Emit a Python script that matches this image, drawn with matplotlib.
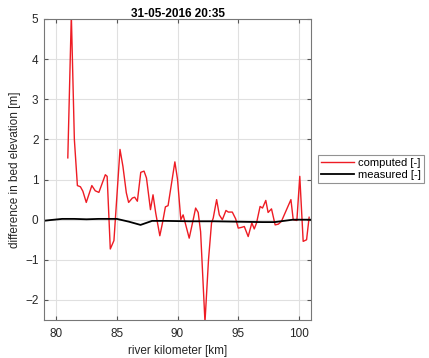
import matplotlib
matplotlib.use('Agg')
import matplotlib.pyplot as plt

plt.rcParams['font.family'] = ['Liberation Sans', 'DejaVu Sans']

# computed bed level difference (red)
km_computed = [80.96, 81.25, 81.5, 81.75, 82.0, 82.2, 82.48, 82.94, 83.22, 83.52,
               84.05, 84.2, 84.46, 84.76, 85.26, 85.5, 85.78, 85.97, 86.28, 86.47,
               86.69, 86.97, 87.24, 87.44, 87.77, 87.98, 88.2, 88.54, 88.76, 89.0,
               89.22, 89.78, 90.0, 90.27, 90.46, 90.96, 91.29, 91.49, 91.7, 91.9,
               92.26, 92.55, 92.8, 92.94, 93.22, 93.44, 93.69, 93.99, 94.18, 94.51,
               94.79, 95.0, 95.29, 95.5, 95.82, 96.12, 96.32, 96.51, 96.8, 97.0,
               97.27, 97.46, 97.74, 98.04, 98.31, 98.56, 99.34, 99.53, 99.83, 100.07,
               100.35, 100.63, 100.84]
diff_computed = [1.54, 5.1, 2.0, 0.85, 0.82, 0.71, 0.43, 0.85, 0.72, 0.68,
                 1.12, 1.08, -0.73, -0.52, 1.75, 1.33, 0.67, 0.43, 0.54, 0.56,
                 0.46, 1.18, 1.21, 1.04, 0.25, 0.62, 0.17, -0.4, -0.08, 0.32,
                 0.35, 1.44, 1.0, 0.0, 0.12, -0.46, 0.0, 0.29, 0.18, -0.3,
                 -2.55, -1.0, -0.08, 0.04, 0.5, 0.12, 0.0, 0.23, 0.19, 0.19,
                 0.02, -0.21, -0.19, -0.17, -0.42, -0.08, -0.23, -0.08, 0.33, 0.29,
                 0.48, 0.18, 0.27, -0.13, -0.11, -0.04, 0.5, 0.0, -0.02, 1.08,
                 -0.54, -0.5, 0.06]

# measured bed level difference (black)
km_measured = [78.9, 79.5, 80.5, 81.5, 82.5, 83.5, 85.0, 86.0, 86.95, 87.9,
               89.0, 91.0, 93.0, 95.0, 97.0, 98.0, 99.5, 101.0]
diff_measured = [-0.03, -0.01, 0.02, 0.02, 0.01, 0.02, 0.02, -0.05, -0.13, -0.03,
                 -0.03, -0.04, -0.04, -0.05, -0.06, -0.06, 0.0, 0.0]

fig = plt.figure(figsize=(4.29, 3.58), dpi=100)
ax = fig.add_axes([0.1026, 0.106, 0.6225, 0.841])

ax.plot(km_computed, diff_computed, color='#ee1c24', linewidth=1.0, label='computed [-]')
ax.plot(km_measured, diff_measured, color='black', linewidth=1.3, label='measured [-]')

ax.set_xlim(79, 101)
ax.set_ylim(-2.5, 5)
ax.set_xticks([80, 85, 90, 95, 100])
ax.set_yticks([-2, -1, 0, 1, 2, 3, 4, 5])
ax.grid(True, color='#e0e0e0', linewidth=0.8)
ax.set_axisbelow(True)
ax.tick_params(direction='in', top=True, right=True, labelsize=8.5,
               color='#555555', labelcolor='#262626', length=3)
ax.tick_params(axis='x', pad=6)
ax.tick_params(axis='y', pad=4)
for s in ax.spines.values():
    s.set_color('#777777')

ax.set_title('31-05-2016 20:35', fontsize=8.5, fontweight='bold', pad=1.5)
ax.set_xlabel('river kilometer [km]', fontsize=8.5, color='#262626', labelpad=3)
ax.set_ylabel('difference in bed elevation [m]', fontsize=8.5, color='#262626', labelpad=3)

leg = ax.legend(loc='center', bbox_to_anchor=(0.865, 0.528), bbox_transform=fig.transFigure,
                fontsize=8, fancybox=False, edgecolor='#777777', handlelength=2.9,
                borderpad=0.3, labelspacing=0.2, handletextpad=0.4, borderaxespad=0)
leg.get_frame().set_linewidth(0.8)

fig.savefig('out.png', dpi=100)
